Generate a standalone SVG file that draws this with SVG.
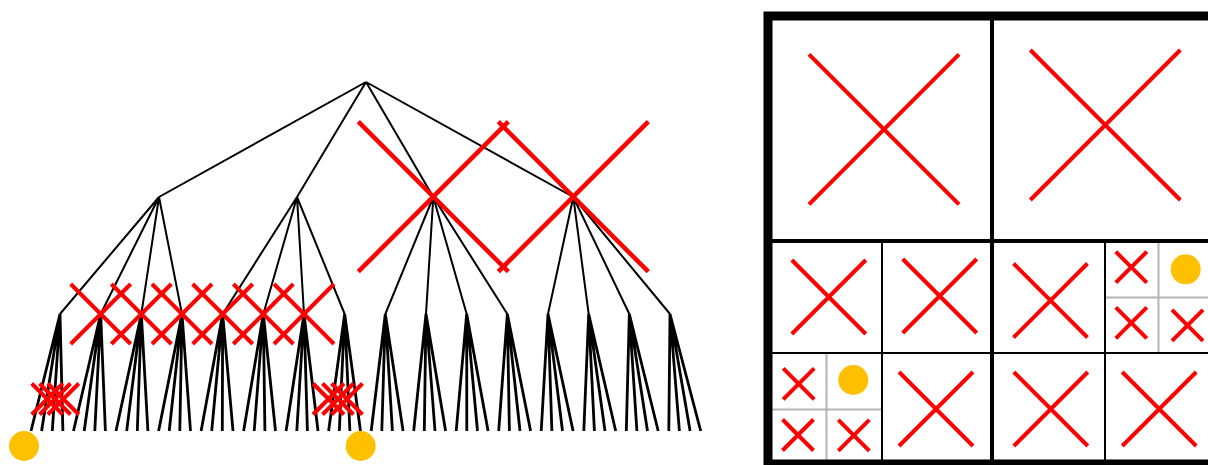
<svg xmlns="http://www.w3.org/2000/svg" width="1208" height="465" viewBox="0 0 1208 465">
<style>
.e{stroke:#000;stroke-width:2;fill:none}
.l{stroke:#000;stroke-width:2.8;fill:none}
.xb{stroke:#f00;stroke-width:4.5;fill:none}
.x{stroke:#f00;stroke-width:4;fill:none}
.c{fill:#ffc000}
.frame{stroke:#000;stroke-width:9;fill:none}
.g2{stroke:#000;stroke-width:4}
.g3{stroke:#000;stroke-width:2}
.g4{stroke:#b4b4b4;stroke-width:2}
</style>
<rect width="1208" height="465" fill="#fff"/>
<g id="connectors">
<path class="e" d="M366,82 L159,197 M366,82 L297,197 M366,82 L433.3,197 M366,82 L573.3,197"/>
<path class="e" d="M159,197 L60,314 M159,197 L100.67,314 M159,197 L141.33,314 M159,197 L182,314"/>
<path class="e" d="M297,197 L222.67,314 M297,197 L263.33,314 M297,197 L304,314 M297,197 L344.67,314"/>
<path class="e" d="M433.3,197 L385.33,314 M433.3,197 L426,314 M433.3,197 L466.67,314 M433.3,197 L507.33,314"/>
<path class="e" d="M573.3,197 L548,314 M573.3,197 L588.67,314 M573.3,197 L629.33,314 M573.3,197 L670,314"/>
<path class="l" d="M60,314 L31,431 M60,314 L41.6,431 M60,314 L52.3,431 M60,314 L62.9,431"/>
<path class="l" d="M100.67,314 L73.5,431 M100.67,314 L84.2,431 M100.67,314 L94.8,431 M100.67,314 L105.4,431"/>
<path class="l" d="M141.33,314 L116,431 M141.33,314 L126.7,431 M141.33,314 L137.3,431 M141.33,314 L147.9,431"/>
<path class="l" d="M182,314 L158.6,431 M182,314 L169.2,431 M182,314 L179.8,431 M182,314 L190.5,431"/>
<path class="l" d="M222.67,314 L201.1,431 M222.67,314 L211.7,431 M222.67,314 L222.3,431 M222.67,314 L233,431"/>
<path class="l" d="M263.33,314 L243.6,431 M263.33,314 L254.2,431 M263.33,314 L264.9,431 M263.33,314 L275.5,431"/>
<path class="l" d="M304,314 L286.1,431 M304,314 L296.8,431 M304,314 L307.4,431 M304,314 L318,431"/>
<path class="l" d="M344.67,314 L328.6,431 M344.67,314 L339.3,431 M344.67,314 L349.9,431 M344.67,314 L360.5,431"/>
<path class="l" d="M385.33,314 L371.2,431 M385.33,314 L381.8,431 M385.33,314 L392.4,431 M385.33,314 L403.1,431"/>
<path class="l" d="M426,314 L413.7,431 M426,314 L424.3,431 M426,314 L435,431 M426,314 L445.6,431"/>
<path class="l" d="M466.67,314 L456.2,431 M466.67,314 L466.8,431 M466.67,314 L477.5,431 M466.67,314 L488.1,431"/>
<path class="l" d="M507.33,314 L498.7,431 M507.33,314 L509.4,431 M507.33,314 L520,431 M507.33,314 L530.6,431"/>
<path class="l" d="M548,314 L541.2,431 M548,314 L551.9,431 M548,314 L562.5,431 M548,314 L573.1,431"/>
<path class="l" d="M588.67,314 L583.8,431 M588.67,314 L594.4,431 M588.67,314 L605,431 M588.67,314 L615.7,431"/>
<path class="l" d="M629.33,314 L626.3,431 M629.33,314 L636.9,431 M629.33,314 L647.5,431 M629.33,314 L658.2,431"/>
<path class="l" d="M670,314 L668.8,431 M670,314 L679.4,431 M670,314 L690.1,431 M670,314 L700.7,431"/>
</g>
<g id="node-a3"><path class="xb" d="M358.3,121.7 L508.3,271.7 M358.3,271.7 L508.3,121.7"/></g>
<g id="node-a4"><path class="xb" d="M498.3,121.7 L648.3,271.7 M498.3,271.7 L648.3,121.7"/></g>
<g id="node-b2"><path class="x" d="M70.67,284 L130.67,344 M70.67,344 L130.67,284"/></g>
<g id="node-b3"><path class="x" d="M111.33,284 L171.33,344 M111.33,344 L171.33,284"/></g>
<g id="node-b4"><path class="x" d="M152,284 L212,344 M152,344 L212,284"/></g>
<g id="node-b5"><path class="x" d="M192.67,284 L252.67,344 M192.67,344 L252.67,284"/></g>
<g id="node-b6"><path class="x" d="M233.33,284 L293.33,344 M233.33,344 L293.33,284"/></g>
<g id="node-b7"><path class="x" d="M274,284 L334,344 M274,344 L334,284"/></g>
<g id="node-c2"><path class="x" d="M31.7,383.5 L62.7,414.5 M31.7,414.5 L62.7,383.5"/></g>
<g id="node-c3"><path class="x" d="M39.5,383.5 L70.5,414.5 M39.5,414.5 L70.5,383.5"/></g>
<g id="node-c4"><path class="x" d="M47.8,383.5 L78.8,414.5 M47.8,414.5 L78.8,383.5"/></g>
<g id="node-c29"><path class="x" d="M313,383.5 L344,414.5 M313,414.5 L344,383.5"/></g>
<g id="node-c30"><path class="x" d="M322.5,383.5 L353.5,414.5 M322.5,414.5 L353.5,383.5"/></g>
<g id="node-c31"><path class="x" d="M331.5,383.5 L362.5,414.5 M331.5,414.5 L362.5,383.5"/></g>
<g id="node-c1"><circle class="c" cx="24" cy="446" r="15"/></g>
<g id="node-c32"><circle class="c" cx="360.7" cy="446" r="15"/></g>
<g id="grid">
<path class="g4" d="M826.5,353 V464 M768,409.5 H882 M1158.5,241 V353 M1105,297.5 H1216"/>
<path class="g3" d="M882,241 V464 M1105,241 V464 M768,353 H1216"/>
<path class="g2" d="M992,16 V464 M768,241 H1216"/>
<rect class="frame" x="768" y="16" width="448" height="448"/>
<path class="x" d="M809,54.3 L959,204.3 M809,204.3 L959,54.3"/>
<path class="x" d="M1030.3,50 L1180.3,200 M1030.3,200 L1180.3,50"/>
<path class="x" d="M791.8,260 L865.8,334 M791.8,334 L865.8,260"/>
<path class="x" d="M902.7,259 L976.7,333 M902.7,333 L976.7,259"/>
<path class="x" d="M1013.5,263.5 L1087.5,337.5 M1013.5,337.5 L1087.5,263.5"/>
<path class="x" d="M899,372 L973,446 M899,446 L973,372"/>
<path class="x" d="M1013.8,372 L1087.8,446 M1013.8,446 L1087.8,372"/>
<path class="x" d="M1122.2,372 L1196.2,446 M1122.2,446 L1196.2,372"/>
<path class="x" d="M783.2,368.3 L814.2,399.3 M783.2,399.3 L814.2,368.3"/>
<path class="x" d="M782.5,419.5 L813.5,450.5 M782.5,450.5 L813.5,419.5"/>
<path class="x" d="M838.3,419.8 L869.3,450.8 M838.3,450.8 L869.3,419.8"/>
<path class="x" d="M1115.8,251.7 L1146.8,282.7 M1115.8,282.7 L1146.8,251.7"/>
<path class="x" d="M1115.8,307.3 L1146.8,338.3 M1115.8,338.3 L1146.8,307.3"/>
<path class="x" d="M1172,309.8 L1203,340.8 M1172,340.8 L1203,309.8"/>
<circle class="c" cx="853.3" cy="380" r="15"/>
<circle class="c" cx="1185.7" cy="269.3" r="15"/>
</g>
</svg>
